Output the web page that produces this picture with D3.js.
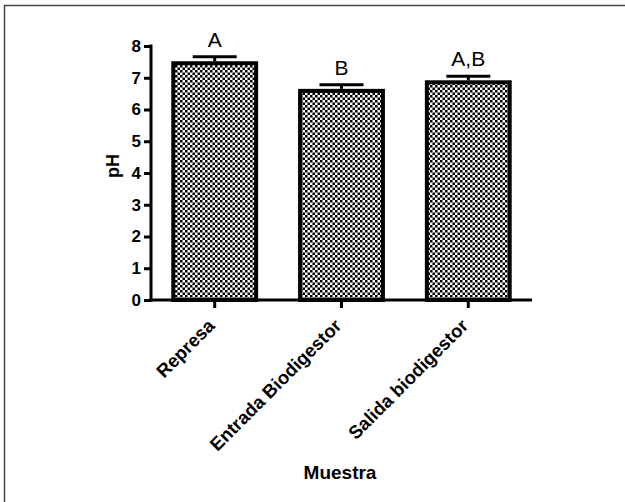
<!DOCTYPE html>
<html lang="es">
<head>
    <meta charset="UTF-8">
    <title>pH por muestra</title>
    <script src="https://d3js.org/d3.v7.min.js"></script>
    <style>
        body { margin: 0; background: #fff; }
        svg { display: block; }
        .tick text { font-family: Arial, "Liberation Sans", sans-serif; font-weight: bold; }
    </style>
</head>
<body>
    <svg width="625" height="502"></svg>
    <script>
        // data
        const categories = ["Represa", "Entrada Biodigestor", "Salida biodigestor"];
        const phValues = [7.52, 6.65, 6.92];
        const phErrors = [0.14, 0.13, 0.13];
        const groupLetters = ["A", "B", "A,B"];
        const yTicks = [0, 1, 2, 3, 4, 5, 6, 7, 8];

        const svg = d3.select("svg");
        const data = categories.map((c, i) => ({ cat: c, v: phValues[i], e: phErrors[i], lab: groupLetters[i] }));

        // outer frame (left + top visible)
        svg.append("path")
            .attr("d", "M4.5,502 V5.5 H625")
            .attr("fill", "none")
            .attr("stroke", "#444")
            .attr("stroke-width", 1.5);

        // checker pattern fill
        const pat = svg.append("defs").append("pattern")
            .attr("id", "checker")
            .attr("patternUnits", "userSpaceOnUse")
            .attr("width", 5).attr("height", 5);
        pat.append("rect").attr("width", 5).attr("height", 5).attr("fill", "#fff");
        pat.append("rect").attr("width", 2.5).attr("height", 2.5).attr("fill", "#000");
        pat.append("rect").attr("x", 2.5).attr("y", 2.5).attr("width", 2.5).attr("height", 2.5).attr("fill", "#000");

        const x = d3.scaleBand().domain(categories).range([151, 532]).paddingInner(0.315).paddingOuter(0.16);
        const y = d3.scaleLinear().domain([0, 8]).range([300, 46]);

        // bars
        svg.append("g").selectAll("rect")
            .data(data)
            .enter().append("rect")
            .attr("x", d => x(d.cat) + 2)
            .attr("y", d => y(d.v) + 2)
            .attr("width", x.bandwidth() - 4)
            .attr("height", d => y(0) - y(d.v) - 2)
            .attr("fill", "url(#checker)")
            .attr("stroke", "#000")
            .attr("stroke-width", 4);

        // error bars (upper only)
        const err = svg.append("g").selectAll("g").data(data).enter().append("g");
        err.append("line")
            .attr("x1", d => x(d.cat) + x.bandwidth() / 2)
            .attr("x2", d => x(d.cat) + x.bandwidth() / 2)
            .attr("y1", d => y(d.v))
            .attr("y2", d => y(d.v + d.e))
            .attr("stroke", "#000").attr("stroke-width", 3);
        err.append("line")
            .attr("x1", d => x(d.cat) + x.bandwidth() / 2 - 22)
            .attr("x2", d => x(d.cat) + x.bandwidth() / 2 + 22)
            .attr("y1", d => y(d.v + d.e))
            .attr("y2", d => y(d.v + d.e))
            .attr("stroke", "#000").attr("stroke-width", 3);

        // significance letters
        svg.append("g").selectAll("text")
            .data(data)
            .enter().append("text")
            .attr("x", d => x(d.cat) + x.bandwidth() / 2)
            .attr("y", d => y(d.v + d.e) - 10)
            .attr("text-anchor", "middle")
            .attr("font-family", "Arial, 'Liberation Sans', sans-serif")
            .attr("font-size", 21)
            .text(d => d.lab);

        // y axis
        const yAxis = svg.append("g")
            .attr("transform", "translate(151,0)")
            .call(d3.axisLeft(y).tickValues(yTicks).tickSize(7).tickSizeOuter(0).tickPadding(3));
        yAxis.select(".domain").attr("stroke-width", 3).attr("d", "M0," + (y(0) + 1.5) + "V" + (y(8) - 1.5));
        yAxis.selectAll(".tick line").attr("stroke-width", 3);
        yAxis.selectAll(".tick text").attr("font-size", 17).attr("fill", "#000");

        // x axis
        const xAxis = svg.append("g")
            .attr("transform", "translate(0,300)")
            .call(d3.axisBottom(x).tickSize(8).tickSizeOuter(0));
        xAxis.select(".domain").attr("stroke-width", 3).attr("d", "M149.5,0H532");
        xAxis.selectAll(".tick line").attr("stroke-width", 3);
        xAxis.selectAll(".tick text")
            .attr("font-size", 18.5)
            .attr("fill", "#000")
            .attr("text-anchor", "end")
            .attr("dy", null)
            .attr("y", 0)
            .attr("transform", "translate(1,27) rotate(-45)");

        // axis titles
        svg.append("text")
            .attr("x", 340).attr("y", 479)
            .attr("text-anchor", "middle")
            .attr("font-family", "Arial, 'Liberation Sans', sans-serif")
            .attr("font-weight", "bold").attr("font-size", 19)
            .text("Muestra");

        svg.append("text")
            .attr("transform", "translate(119,166) rotate(-90)")
            .attr("text-anchor", "middle")
            .attr("font-family", "Arial, 'Liberation Sans', sans-serif")
            .attr("font-weight", "bold").attr("font-size", 18)
            .text("pH");
    </script>
</body>
</html>
